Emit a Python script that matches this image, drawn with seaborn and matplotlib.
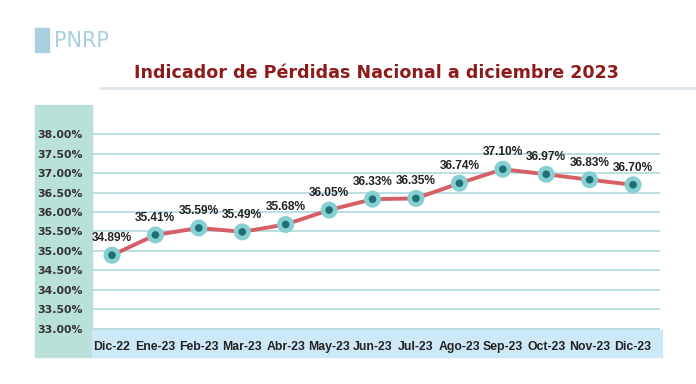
import matplotlib.pyplot as plt
import matplotlib.patches as patches
import pandas as pd
import seaborn as sns

# Monthly national loss indicator (%)
months = ["Dic-22", "Ene-23", "Feb-23", "Mar-23", "Abr-23", "May-23", "Jun-23",
          "Jul-23", "Ago-23", "Sep-23", "Oct-23", "Nov-23", "Dic-23"]
losses = [34.89, 35.41, 35.59, 35.49, 35.68, 36.05, 36.33,
          36.35, 36.74, 37.10, 36.97, 36.83, 36.70]
y_ticks = [33.0, 33.5, 34.0, 34.5, 35.0, 35.5, 36.0, 36.5, 37.0, 37.5, 38.0]

title = "Indicador de Pérdidas Nacional a diciembre 2023"

narrow = ["Liberation Sans", "DejaVu Sans"]

df = pd.DataFrame({"mes": months, "perdidas": losses})
df["pos"] = range(len(df))

sns.set_style("white")
plt.rcParams["font.family"] = ["DejaVu Sans"]

fig = plt.figure(figsize=(6.96, 3.84), dpi=100)
W, H = 696, 384


def fig_box(x0, y0, x1, y1):
    # pixel box (top-left origin) -> figure fraction rect
    return [x0 / W, 1 - y1 / H, (x1 - x0) / W, (y1 - y0) / H]


# left teal panel and bottom label band
left_panel = patches.Rectangle(fig_box(35, 105, 92, 357)[:2], 57 / W, 252 / H,
                               transform=fig.transFigure, color="#b9e0d9", zorder=-5)
band = patches.Rectangle(fig_box(92, 330, 662, 357)[:2], 570 / W, 27 / H,
                         transform=fig.transFigure, color="#cde8f6", zorder=-5)
fig.patches.extend([left_panel, band])

ax = fig.add_axes(fig_box(92, 107, 660, 330))
ax.patch.set_alpha(0)
ax.set_zorder(2)

sns.lineplot(data=df, x="pos", y="perdidas", ax=ax, color="#d65f67",
             linewidth=2.8, zorder=3)
sns.scatterplot(data=df, x="pos", y="perdidas", ax=ax, s=150, color="#86cfd2",
                edgecolor="none", zorder=4)
sns.scatterplot(data=df, x="pos", y="perdidas", ax=ax, s=30, color="#1e6e72",
                edgecolor="none", zorder=5)

for i, v in enumerate(losses):
    ax.annotate(f"{v:.2f}%", (i, v), xytext=(0, 8), textcoords="offset points",
                ha="center", va="bottom", fontsize=8.6, fontweight="bold",
                family=narrow, color="#222222", zorder=6)

ax.set_xlim(-0.46, 12.62)
ax.set_ylim(32.967, 38.7)
ax.set_yticks(y_ticks)
ax.set_yticklabels([f"{t:.2f}%" for t in y_ticks], fontsize=7.8,
                   fontweight="bold", color="#333333")
ax.set_xticks(df["pos"])
ax.set_xticklabels(months, fontsize=8.8, fontweight="bold", color="#222222",
                   family=narrow)
ax.tick_params(axis="y", length=0, pad=7)
ax.tick_params(axis="x", length=0, pad=8)
ax.grid(axis="y", color="#a9d6d8", linewidth=1.1)
ax.set_xlabel("")
ax.set_ylabel("")
for s in ax.spines.values():
    s.set_visible(False)

# title and header line
fig.text(376 / W, 1 - 73 / H, title, ha="center", va="center", fontsize=12.6,
         fontweight="bold", color="#8e1b1b")
fig.add_artist(plt.Line2D([100 / W, 1], [1 - 88 / H, 1 - 88 / H],
                          color="#dde6ec", linewidth=2))

# logo
fig.patches.append(patches.Rectangle(fig_box(35, 28, 49, 52)[:2], 14 / W, 24 / H,
                                     transform=fig.transFigure, color="#a8cfe0"))
fig.text(54 / W, 1 - 41 / H, "PNRP", ha="left", va="center", fontsize=15,
         color="#a8cfe0")

fig.savefig("out.png", dpi=100)
